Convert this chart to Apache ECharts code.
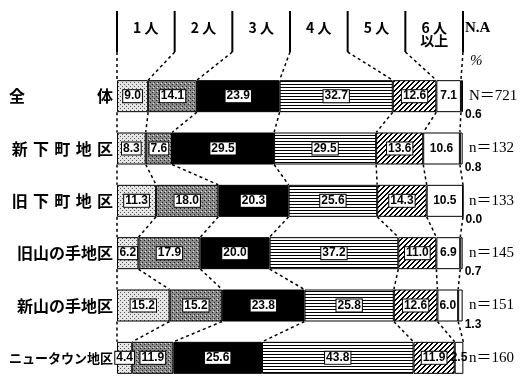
<!DOCTYPE html>
<html><head><meta charset="utf-8">
<script src="https://cdn.jsdelivr.net/npm/echarts@6/dist/echarts.min.js"></script>
<style>html,body{margin:0;padding:0;background:#fff}#c{width:521px;height:384px}</style>
</head><body><div id="c"></div>
<script>
const categories = ['全\u3000\u3000\u3000\u3000\u2002体','新\u2004下\u2004町\u2004地\u2004区','旧\u2004下\u2004町\u2004地\u2004区','旧山の手地区','新山の手地区','ニュータウン地区'];
const seriesNames = ['1人','2人','3人','4人','5人','6人以上','N.A'];
const headerLabels = ['1 人','2 人','3 人','4 人','5 人','6 人\n以上'];
const p1 = [9.0, 8.3, 11.3, 6.2, 15.2, 4.4];
const p2 = [14.1, 7.6, 18.0, 17.9, 15.2, 11.9];
const p3 = [23.9, 29.5, 20.3, 20.0, 23.8, 25.6];
const p4 = [32.7, 29.5, 25.6, 37.2, 25.8, 43.8];
const p5 = [12.6, 13.6, 14.3, 11.0, 12.6, 11.9];
const p6 = [7.1, 10.6, 10.5, 6.9, 6.0, 2.5];
const pNA = [0.6, 0.8, 0.0, 0.7, 1.3, 0.0];
const nLabels = ['N＝721','n＝132','n＝133','n＝145','n＝151','n＝160'];
const naLabels = ['0.6','0.8','0.0','0.7','1.3',''];

const BAR_W = 32;
function pat(w, h, draw){ const c=document.createElement('canvas'); c.width=w; c.height=h; draw(c.getContext('2d')); return {image:c, repeat:'repeat'}; }
const fills = [
  pat(4,4,g=>{g.fillStyle='#e6e6e6';g.fillRect(0,0,4,4);g.fillStyle='#555';g.fillRect(0,0,1,1);g.fillRect(2,2,1,1);}),
  pat(4,4,g=>{g.fillStyle='#8a8a8a';g.fillRect(0,0,4,4);g.fillStyle='#222';g.fillRect(0,0,1,1);g.fillRect(2,2,1,1);g.fillStyle='#ddd';g.fillRect(1,3,1,1);}),
  '#000',
  pat(4,3,g=>{g.fillStyle='#fff';g.fillRect(0,0,4,3);g.fillStyle='#000';g.fillRect(0,0,4,1);}),
  pat(5,5,g=>{g.fillStyle='#fff';g.fillRect(0,0,5,5);g.fillStyle='#000';for(let i=0;i<5;i++){g.fillRect(i,4-i,1,1);g.fillRect((i+1)%5,4-i,1,1);}}),
  '#fff',
  '#fff'
];
const values = [p1,p2,p3,p4,p5,p6,pNA];

const cum = categories.map((_, r) => { const a=[0]; values.forEach(v=>a.push(a[a.length-1]+v[r])); return a; });
const connData = [];
for (let r=0; r<categories.length-1; r++) for (let k=0; k<=6; k++) connData.push([cum[r][k], r, cum[r+1][k], r+1]);
const headData = [];
for (let k=0; k<=6; k++) headData.push([k*100/6, cum[0][k]]);

const boxLabel = {show:true, color:'#000', fontFamily:'Liberation Sans Narrow, Liberation Sans, sans-serif', fontWeight:'bold', fontSize:12,
  backgroundColor:'#fff', borderColor:'#000', borderWidth:1, padding:[0,1,0,1], formatter:p=>p.value.toFixed(1)};
const series = values.map((v, i) => ({
  name: seriesNames[i], type:'bar', stack:'a', barWidth:BAR_W, data:v,
  itemStyle:{color:fills[i], borderColor:'#000', borderWidth:1},
  label: i===6 ? {show:true, position:'right', distance:2, offset:[0,19], color:'#000', fontFamily:'Liberation Sans Narrow, Liberation Sans, sans-serif', fontWeight:'bold', fontSize:12, formatter:p=>naLabels[p.dataIndex]}
       : (i===5 ? Object.assign({}, boxLabel, {backgroundColor:'transparent', borderWidth:0}) : boxLabel),
  z:2
}));
series.push({
  type:'custom', data:connData, z:5, silent:true,
  renderItem:(params, api)=>{
    const a = api.coord([api.value(0), api.value(1)]);
    const b = api.coord([api.value(2), api.value(3)]);
    return {type:'line', shape:{x1:a[0], y1:a[1]+BAR_W/2, x2:b[0], y2:b[1]-BAR_W/2}, style:{stroke:'#000', lineWidth:1.5, lineDash:[3,3]}};
  }
});
series.push({
  type:'custom', data:headData, z:5, silent:true,
  renderItem:(params, api)=>{
    const top = params.coordSys.y;
    const hx = api.coord([api.value(0), 0])[0];
    const t = api.coord([api.value(1), 0]);
    return {type:'group', children:[
      {type:'line', shape:{x1:hx, y1:top-59, x2:hx, y2:top-18}, style:{stroke:'#000', lineWidth:2}},
      {type:'line', shape:{x1:hx, y1:top-18, x2:t[0], y2:t[1]-BAR_W/2}, style:{stroke:'#000', lineWidth:1.5, lineDash:[3,3]}}
    ]};
  }
});

const chart = echarts.init(document.getElementById('c'), null, {renderer:'canvas'});
chart.setOption({
  animation:false,
  backgroundColor:'#fff',
  grid:{left:117, right:58, top:70, height:322},
  xAxis:[
    {type:'value', min:0, max:100, show:false},
    {type:'category', position:'top', data:headerLabels, axisLine:{show:false}, axisTick:{show:false},
     axisLabel:{margin:49, verticalAlign:'top', color:'#000', fontFamily:'Noto Sans CJK JP', fontWeight:'bold', fontSize:14, lineHeight:13}}
  ],
  yAxis:[
    {type:'category', inverse:true, data:categories, axisLine:{show:false}, axisTick:{show:false},
     axisLabel:{margin:4, color:'#000', fontFamily:'Noto Sans CJK JP', fontWeight:'bold', fontSize:16,
       formatter:(v,i)=> i===5 ? '{s|'+v+'}' : v, rich:{s:{fontSize:13, fontFamily:'Noto Sans CJK JP', fontWeight:'bold', color:'#000'}}}},
    {type:'category', inverse:true, position:'right', data:nLabels, axisLine:{show:false}, axisTick:{show:false},
     axisLabel:{margin:6, color:'#000', fontFamily:'Liberation Serif, Noto Sans CJK JP', fontSize:15}}
  ],
  graphic:[
    {type:'text', left:465, top:21, style:{text:'N.A', fill:'#000', font:'bold 15px Liberation Serif'}},
    {type:'text', left:470, top:54, style:{text:'%', fill:'#000', font:'italic 15px Liberation Serif'}}
  ],
  series
});
</script></body></html>
